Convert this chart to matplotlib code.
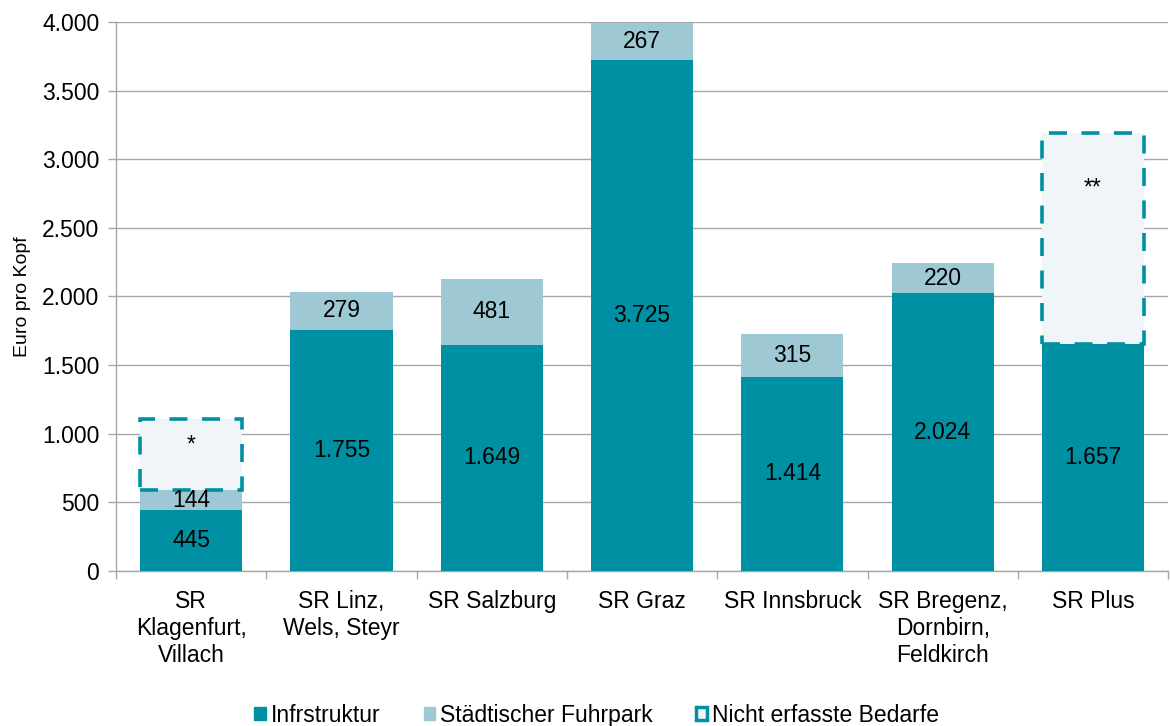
import matplotlib
matplotlib.use("Agg")
import matplotlib.pyplot as plt
from matplotlib.patches import Patch
import numpy as np

plt.rcParams['font.family'] = ['Liberation Sans', 'DejaVu Sans']

categories = ["SR\nKlagenfurt,\nVillach", "SR Linz,\nWels, Steyr", "SR Salzburg", "SR Graz",
              "SR Innsbruck", "SR Bregenz,\nDornbirn,\nFeldkirch", "SR Plus"]
infrastruktur = [445, 1755, 1649, 3725, 1414, 2024, 1657]
fuhrpark = [144, 279, 481, 267, 315, 220, 0]
nicht_erfasst = [521, 0, 0, 0, 0, 0, 1533]
nicht_erfasst_labels = ["*", "", "", "", "", "", "**"]
star_frac = [0.63, 0, 0, 0, 0, 0, 0.74]

c_inf = "#0090A3"
c_fuhr = "#9DC8D4"
c_box = "#F0F5F9"
grid_c = "#A6A6A6"

fig = plt.figure(figsize=(11.7, 7.26), dpi=100)
ax = fig.add_axes([0.0991, 0.2135, 0.8993, 0.7562])

x = np.arange(len(categories))
w = 0.68
fs = 16.5

ax.bar(x, infrastruktur, w, color=c_inf, zorder=3)
ax.bar(x, fuhrpark, w, bottom=infrastruktur, color=c_fuhr, zorder=3)
bottoms2 = [a + b for a, b in zip(infrastruktur, fuhrpark)]
mask = [n > 0 for n in nicht_erfasst]
ax.bar(x[mask], np.array(nicht_erfasst)[mask], w, bottom=np.array(bottoms2)[mask],
       facecolor=c_box, edgecolor=c_inf, linestyle=(0, (5, 4)), linewidth=2.6, zorder=4)

for i in range(len(categories)):
    ax.text(x[i], infrastruktur[i] / 2, f"{infrastruktur[i]:,}".replace(",", "."),
            ha="center", va="center", fontsize=fs, zorder=5)
    if fuhrpark[i] > 0:
        ax.text(x[i], infrastruktur[i] + fuhrpark[i] / 2, f"{fuhrpark[i]:,}".replace(",", "."),
                ha="center", va="center", fontsize=fs, zorder=5)
    if nicht_erfasst[i] > 0:
        ax.text(x[i], bottoms2[i] + nicht_erfasst[i] * star_frac[i], nicht_erfasst_labels[i],
                ha="center", va="center", fontsize=fs, zorder=5)

ax.set_xlim(-0.5, len(categories) - 0.5)
ax.set_ylim(0, 4000)
ax.set_yticks(np.arange(0, 4001, 500))
ax.set_yticklabels([f"{v:,}".replace(",", ".") for v in range(0, 4001, 500)], fontsize=fs)
ax.yaxis.grid(True, color=grid_c, linewidth=1, zorder=0)
ax.set_axisbelow(True)
ax.set_ylabel("Euro pro Kopf", fontsize=14, labelpad=8)

ax.set_xticks(x)
ax.set_xticklabels(categories, fontsize=fs, linespacing=1.2)
ax.tick_params(axis="x", length=0, pad=14)
ax.set_xticks(np.arange(-0.5, len(categories)), minor=True)
ax.tick_params(axis="x", which="minor", length=6, color=grid_c, width=1)
ax.tick_params(axis="y", length=6, color=grid_c, width=1, pad=6)

for s in ["top", "right"]:
    ax.spines[s].set_visible(False)
for s in ["left", "bottom"]:
    ax.spines[s].set_color(grid_c)
    ax.spines[s].set_linewidth(1)

handles = [Patch(facecolor=c_inf, edgecolor=c_inf),
           Patch(facecolor=c_fuhr, edgecolor=c_fuhr),
           Patch(facecolor=c_box, edgecolor=c_inf, linewidth=2.5)]
fig.legend(handles, ["Infrstruktur", "Städtischer Fuhrpark", "Nicht erfasste Bedarfe"],
           loc="center", bbox_to_anchor=(0.51, 0.015), ncol=3, frameon=False,
           fontsize=fs, handlelength=0.5, handleheight=0.5, handletextpad=0.2, columnspacing=1.9)

fig.savefig("out.png", dpi=100)
